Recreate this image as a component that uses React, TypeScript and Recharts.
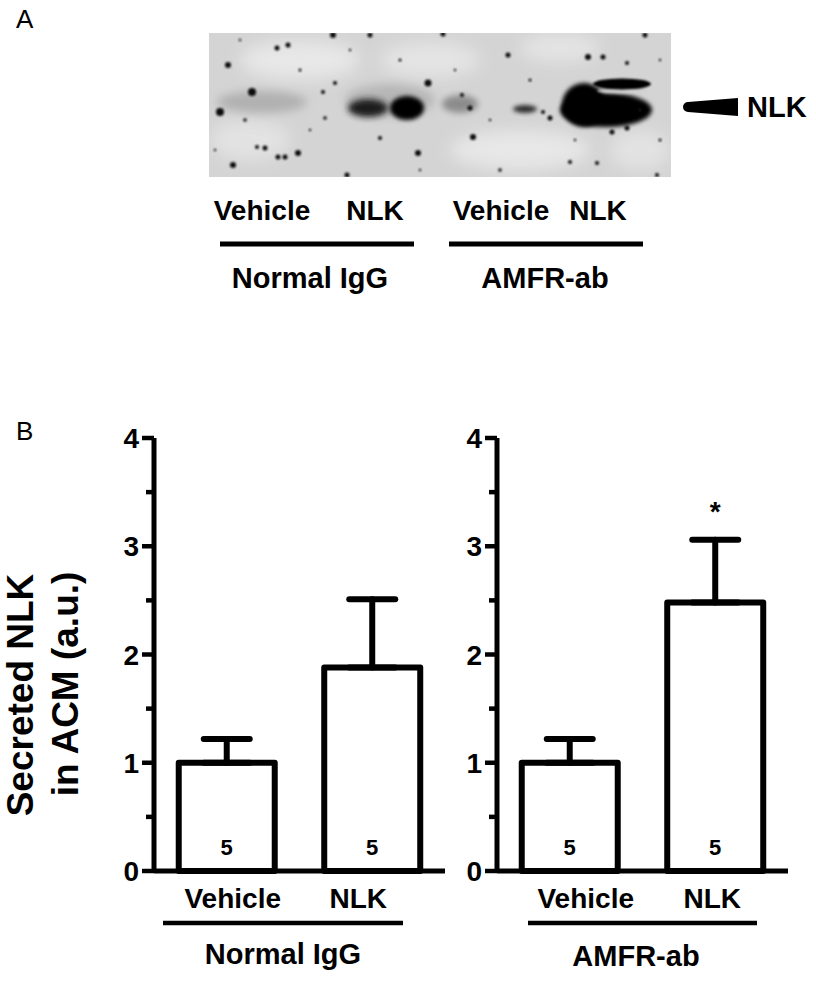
import React from 'react';
import { ComposedChart, Bar, ErrorBar, Line, XAxis, YAxis, LabelList } from 'recharts';

// values (a.u.), mean and upper SEM
const categories = ['Vehicle', 'NLK'];
const normalIgGMean = [1.0, 1.88];
const normalIgGSem = [0.22, 0.63];
const amfrMean = [1.0, 2.48];
const amfrSem = [0.22, 0.58];
const sampleSize = [5, 5];
const normalIgGSig = [false, false];
const amfrSig = [false, true];
const yTicks = [0, 0.5, 1, 1.5, 2, 2.5, 3, 3.5, 4];

// blot specks (decoration for panel A)
const specks: [number, number, number][] = [
  [228, 65, 3], [277, 48, 2.5], [288, 45, 2.5], [333, 35, 3], [370, 35, 2.5], [443, 34, 2.5],
  [508, 55, 2.5], [588, 57, 3], [603, 57, 2.5], [645, 35, 2.5], [627, 63, 2], [428, 83, 3.5],
  [335, 83, 2], [323, 92, 2], [462, 95, 2], [550, 118, 2.5], [612, 132, 2.5], [627, 128, 2.5],
  [473, 137, 3], [380, 138, 2], [298, 153, 3], [278, 157, 2.5], [285, 157, 2.5], [265, 148, 2.5],
  [257, 147, 2], [233, 165, 3], [418, 153, 3], [347, 175, 2.5], [570, 162, 2], [597, 163, 2],
  [245, 120, 1.8], [325, 118, 1.8], [543, 112, 2], [657, 175, 2], [252, 92, 4], [220, 112, 4],
  [470, 108, 2.5], [500, 170, 1.8], [640, 110, 1.8], [300, 70, 1.5], [400, 60, 1.5], [530, 80, 1.5],
  [240, 40, 1.2], [350, 50, 1.2], [455, 70, 1.2], [575, 140, 1.2], [660, 60, 1.2], [310, 130, 1.2],
  [420, 170, 1.2], [490, 120, 1.2], [215, 150, 1.2], [660, 140, 1.5],
];

const FONT = "'Liberation Sans', Arial, Helvetica, sans-serif";
const AXIS_W = 55;
const CHART_W = 346;
const CHART_H = 511;
const MARGIN = { top: 18, right: 0, bottom: 0, left: 0 };

const makeRows = (mean: number[], sem: number[], sig: boolean[]) =>
  categories.map((name, i) => ({
    name,
    mean: mean[i],
    err: [0, sem[i]],
    n: sampleSize[i],
    star: sig[i] ? mean[i] + sem[i] : null,
  }));

const YTick = (props: any) => {
  const { y, payload } = props;
  const v = payload.value;
  const major = Number.isInteger(v);
  return (
    <g>
      <line x1={AXIS_W - (major ? 12 : 8)} x2={AXIS_W} y1={y} y2={y} stroke="#000" strokeWidth={4.5} />
      {major && (
        <text x={AXIS_W - 15} y={y + 10} textAnchor="end" fontSize={28} fontWeight="bold" fontFamily={FONT} fill="#000">
          {v}
        </text>
      )}
    </g>
  );
};

const renderStar = (p: any) => {
  if (p.value == null || p.cy == null) return <g key={`s${p.index}`} />;
  return (
    <text key={`s${p.index}`} x={p.cx} y={p.cy - 19} textAnchor="middle" fontSize={28} fontWeight="bold" fontFamily={FONT} fill="#000">
      *
    </text>
  );
};

const renderN = (p: any) => (
  <text x={p.x + p.width / 2} y={p.y + p.height - 16} textAnchor="middle" fontSize={22} fontWeight="bold" fontFamily={FONT} fill="#000">
    {p.value}
  </text>
);

const Panel = ({ rows, left, labelDx }: { rows: any[]; left: number; labelDx: number[] }) => (
  <div style={{ position: 'absolute', left, top: 420 }}>
    <ComposedChart width={CHART_W} height={CHART_H} data={rows} margin={MARGIN} barCategoryGap="17%">
      <XAxis
        dataKey="name"
        axisLine={{ stroke: '#000', strokeWidth: 5 }}
        tickLine={false}
        tickSize={0}
        tickMargin={0}
        height={60}
        interval={0}
        tick={(p: any) => {
          const i = categories.indexOf(p.payload.value);
          return (
            <text x={p.x + labelDx[i]} y={p.y + 37} textAnchor="middle" fontSize={28} fontWeight="bold" fontFamily={FONT} fill="#000">
              {p.payload.value}
            </text>
          );
        }}
      />
      <YAxis
        type="number"
        domain={[0, 4]}
        ticks={yTicks}
        interval={0}
        width={AXIS_W}
        tickLine={false}
        axisLine={{ stroke: '#000', strokeWidth: 5 }}
        tick={YTick}
      />
      <Bar dataKey="mean" fill="#fff" stroke="#000" strokeWidth={6} strokeLinejoin="round" isAnimationActive={false}>
        <ErrorBar dataKey="err" direction="y" width={23} stroke="#000" strokeWidth={6} strokeLinecap="round" isAnimationActive={false} />
        <LabelList dataKey="n" content={renderN} />
      </Bar>
      <Line dataKey="star" stroke="none" dot={renderStar} activeDot={false} legendType="none" isAnimationActive={false} />
    </ComposedChart>
  </div>
);

const Blot = () => (
  <g>
    <defs>
      <clipPath id="blotClip">
        <rect x={209} y={33} width={462} height={144} />
      </clipPath>
      <filter id="b8" x="-50%" y="-50%" width="200%" height="200%"><feGaussianBlur stdDeviation={8} /></filter>
      <filter id="b5" x="-50%" y="-50%" width="200%" height="200%"><feGaussianBlur stdDeviation={5} /></filter>
      <filter id="b3" x="-50%" y="-50%" width="200%" height="200%"><feGaussianBlur stdDeviation={3} /></filter>
      <filter id="b2" x="-50%" y="-50%" width="200%" height="200%"><feGaussianBlur stdDeviation={2.2} /></filter>
      <filter id="b1" x="-50%" y="-50%" width="200%" height="200%"><feGaussianBlur stdDeviation={0.9} /></filter>
    </defs>
    <g clipPath="url(#blotClip)">
      <rect x={209} y={33} width={462} height={144} fill="#d4d4d4" />
      <ellipse cx={300} cy={60} rx={60} ry={20} fill="#ececec" opacity={0.8} filter="url(#b8)" />
      <ellipse cx={520} cy={150} rx={70} ry={20} fill="#ececec" opacity={0.8} filter="url(#b8)" />
      <ellipse cx={430} cy={60} rx={50} ry={18} fill="#e8e8e8" opacity={0.8} filter="url(#b8)" />
      <ellipse cx={250} cy={140} rx={40} ry={20} fill="#e6e6e6" opacity={0.8} filter="url(#b8)" />
      <ellipse cx={560} cy={48} rx={40} ry={14} fill="#e8e8e8" opacity={0.8} filter="url(#b8)" />
      <ellipse cx={640} cy={150} rx={30} ry={20} fill="#e6e6e6" opacity={0.8} filter="url(#b8)" />
      {/* faint vehicle lanes */}
      <ellipse cx={262} cy={102} rx={45} ry={11} fill="#9a9a9a" opacity={0.6} filter="url(#b5)" />
      <ellipse cx={460} cy={104} rx={18} ry={9} fill="#7a7a7a" opacity={0.8} filter="url(#b3)" />
      <ellipse cx={525} cy={109} rx={12} ry={4} fill="#333" filter="url(#b2)" />
      {/* NLK lane, normal IgG */}
      <ellipse cx={390} cy={100} rx={45} ry={16} fill="#999" opacity={0.5} filter="url(#b5)" />
      <ellipse cx={368} cy={108} rx={20} ry={9} fill="#1a1a1a" filter="url(#b3)" />
      <ellipse cx={407} cy={108} rx={17} ry={12} fill="#000" filter="url(#b2)" />
      {/* NLK lane, AMFR-ab */}
      <ellipse cx={606} cy={110} rx={46} ry={17} fill="#000" filter="url(#b2)" />
      <ellipse cx={584} cy={105} rx={22} ry={22} fill="#000" filter="url(#b2)" />
      <ellipse cx={622} cy={91} rx={25} ry={2.5} fill="#cfcfcf" opacity={0.8} filter="url(#b1)" />
      <ellipse cx={622} cy={84} rx={29} ry={5.5} fill="#000" filter="url(#b1)" />
      {specks.map(([x, y, r], i) => (
        <circle key={i} cx={x} cy={y} r={r} fill="#111" filter="url(#b1)" />
      ))}
    </g>
  </g>
);

const txt = { fontFamily: FONT, fontWeight: 'bold' as const, fill: '#000' };

export default function App() {
  return (
    <div style={{ position: 'absolute', left: 0, top: 0, width: 816, height: 983, background: '#fff' }}>
      <Panel rows={makeRows(normalIgGMean, normalIgGSem, normalIgGSig)} left={99} labelDx={[6, -14]} />
      <Panel rows={makeRows(amfrMean, amfrSem, amfrSig)} left={442} labelDx={[16, -3]} />
      <svg width={816} height={983} style={{ position: 'absolute', left: 0, top: 0, pointerEvents: 'none' }}>
        <text x={16} y={28} fontSize={26} fontFamily={FONT} fill="#000">A</text>
        <text x={16} y={440} fontSize={26} fontFamily={FONT} fill="#000">B</text>

        <Blot />
        <path d="M688,102 L738,98 L738,116 L688,112 A5,5 0 0,1 688,102 Z" fill="#000" />
        <text x={747} y={117} fontSize={29} {...txt}>NLK</text>

        <text x={262} y={220} fontSize={28} textAnchor="middle" {...txt}>Vehicle</text>
        <text x={375} y={220} fontSize={28} textAnchor="middle" {...txt}>NLK</text>
        <text x={501} y={220} fontSize={28} textAnchor="middle" {...txt}>Vehicle</text>
        <text x={598} y={220} fontSize={28} textAnchor="middle" {...txt}>NLK</text>
        <line x1={220} x2={414} y1={244} y2={244} stroke="#000" strokeWidth={5} />
        <line x1={449} x2={643} y1={244} y2={244} stroke="#000" strokeWidth={5} />
        <text x={310} y={288} fontSize={29} textAnchor="middle" {...txt}>Normal IgG</text>
        <text x={545} y={288} fontSize={29} textAnchor="middle" {...txt}>AMFR-ab</text>

        <text transform="translate(33,695) rotate(-90)" fontSize={37} textAnchor="middle" {...txt}>Secreted NLK</text>
        <text transform="translate(78,684) rotate(-90)" fontSize={37} textAnchor="middle" {...txt}>in ACM (a.u.)</text>

        <line x1={163} x2={403} y1={923} y2={923} stroke="#000" strokeWidth={4.5} />
        <line x1={528} x2={757} y1={923} y2={923} stroke="#000" strokeWidth={4.5} />
        <text x={283} y={964} fontSize={29} textAnchor="middle" {...txt}>Normal IgG</text>
        <text x={636} y={966} fontSize={29} textAnchor="middle" {...txt}>AMFR-ab</text>
      </svg>
    </div>
  );
}
